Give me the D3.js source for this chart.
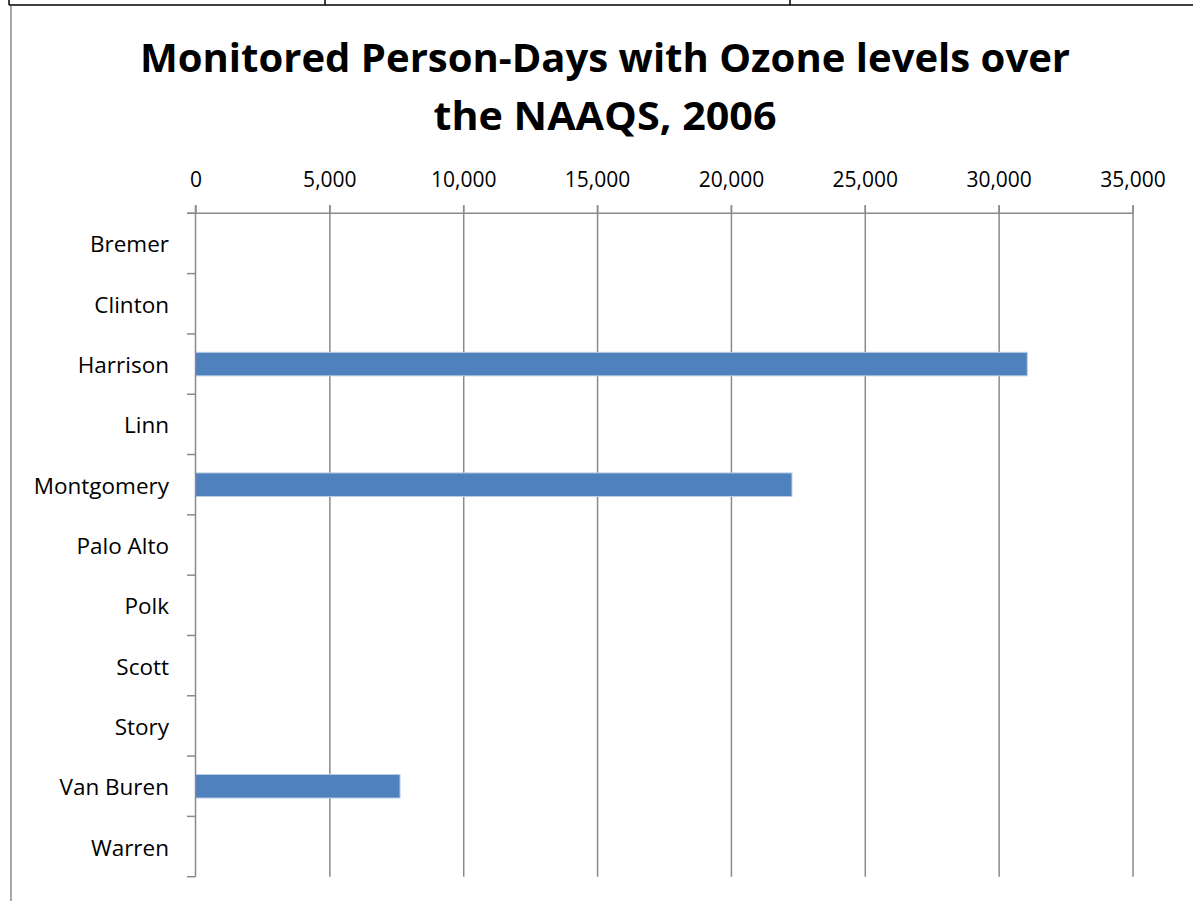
<!DOCTYPE html>
<html>
<head>
<meta charset="utf-8">
<script src="https://cdn.jsdelivr.net/npm/d3@7"></script>
<style>
  body { margin: 0; background: #fff; }
  svg { display: block; }
  text { font-family: "Open Sans", "Liberation Sans", sans-serif; fill: #000; }
</style>
</head>
<body>
<svg width="1193" height="901"></svg>
<script>
// data
var counties = ["Bremer", "Clinton", "Harrison", "Linn", "Montgomery", "Palo Alto",
                "Polk", "Scott", "Story", "Van Buren", "Warren"];
var personDays = [0, 0, 31070, 0, 22280, 0, 0, 0, 0, 7640, 0];
var xTicks = [0, 5000, 10000, 15000, 20000, 25000, 30000, 35000];
var titleLines = ["Monitored Person-Days with Ozone levels over", "the NAAQS, 2006"];

var svg = d3.select("svg");

var rows = counties.map(function(c, i) { return { name: c, value: personDays[i] }; });

// page furniture: table border above, margin line on the left
svg.append("line").attr("x1", 9).attr("x2", 1193).attr("y1", 5).attr("y2", 5)
    .attr("stroke", "#000").attr("stroke-width", 1.5);
[9, 325, 790].forEach(function(x) {
    svg.append("line").attr("x1", x).attr("x2", x).attr("y1", 0).attr("y2", 5)
        .attr("stroke", "#000").attr("stroke-width", 1.5);
});
svg.append("line").attr("x1", 11).attr("x2", 11).attr("y1", 6).attr("y2", 901)
    .attr("stroke", "#8a8a8a").attr("stroke-width", 1.5);

// title
var titleWidths = [930, 343];
svg.append("g").selectAll("text")
    .data(titleLines)
    .enter().append("text")
    .attr("x", 605)
    .attr("y", function(d, i) { return 72 + i * 58; })
    .attr("text-anchor", "middle")
    .attr("font-size", 40)
    .attr("font-weight", "bold")
    .attr("textLength", function(d, i) { return titleWidths[i]; })
    .attr("lengthAdjust", "spacingAndGlyphs")
    .text(function(d) { return d; });

// plot area edges
var plotTop = 213.3, plotBottom = 876.7, plotLeft = 195.5, plotRight = 1132.5;

var x = d3.scaleLinear().domain([0, 35000]).range([plotLeft, plotRight]);

var y = d3.scaleBand()
    .domain(counties)
    .range([plotTop, plotBottom])
    .paddingInner(0.61)
    .paddingOuter(0.305);

// vertical gridlines
svg.append("g")
    .attr("transform", "translate(0," + plotBottom + ")")
    .call(d3.axisTop(x).tickValues(xTicks.slice(1)).tickSize(plotBottom - plotTop + 8).tickFormat(""))
    .call(function(g) {
        g.select(".domain").remove();
        g.selectAll("line").attr("stroke", "#8a8a8a").attr("stroke-width", 1.5);
    });

// x axis at the top
svg.append("g")
    .attr("transform", "translate(0," + plotTop + ")")
    .call(d3.axisTop(x).tickValues(xTicks).tickSize(8).tickSizeOuter(0).tickPadding(18.6)
        .tickFormat(d3.format(",")))
    .call(function(g) {
        g.select(".domain").attr("stroke", "#8a8a8a").attr("stroke-width", 1.5)
            .attr("d", "M" + (plotLeft - 8.5) + ",0H" + plotRight);
        g.selectAll("line").attr("stroke", "#8a8a8a").attr("stroke-width", 1.5);
        g.selectAll("text").attr("font-size", 21).attr("fill", "#000")
            .style("font-family", "'Open Sans', sans-serif");
    });

// bars
svg.append("g")
    .selectAll("rect")
    .data(rows.filter(function(d) { return d.value > 0; }))
    .enter().append("rect")
    .attr("x", x(0))
    .attr("y", function(d) { return y(d.name); })
    .attr("width", function(d) { return x(d.value) - x(0); })
    .attr("height", y.bandwidth())
    .attr("fill", "#4f81bd")
    .attr("stroke", "#b9cde5")
    .attr("stroke-width", 1);

// y axis with labels at band centres
svg.append("g")
    .attr("transform", "translate(" + plotLeft + ",0)")
    .call(d3.axisLeft(y).tickSize(0).tickPadding(26.5))
    .call(function(g) {
        g.select(".domain").attr("stroke", "#8a8a8a").attr("stroke-width", 1.5)
            .attr("d", "M0," + (plotTop - 8) + "V" + plotBottom);
        g.selectAll("text").attr("font-size", 22.5).attr("fill", "#000").attr("dy", "0.4em")
            .style("font-family", "'Open Sans', sans-serif");
    });

// category boundary ticks
var boundaries = d3.range(counties.length + 1).map(function(i) { return plotTop + i * y.step(); });
svg.append("g")
    .selectAll("line")
    .data(boundaries)
    .enter().append("line")
    .attr("x1", plotLeft - 8.5).attr("x2", plotLeft)
    .attr("y1", function(d) { return d; }).attr("y2", function(d) { return d; })
    .attr("stroke", "#8a8a8a").attr("stroke-width", 1.5);
</script>
</body>
</html>
